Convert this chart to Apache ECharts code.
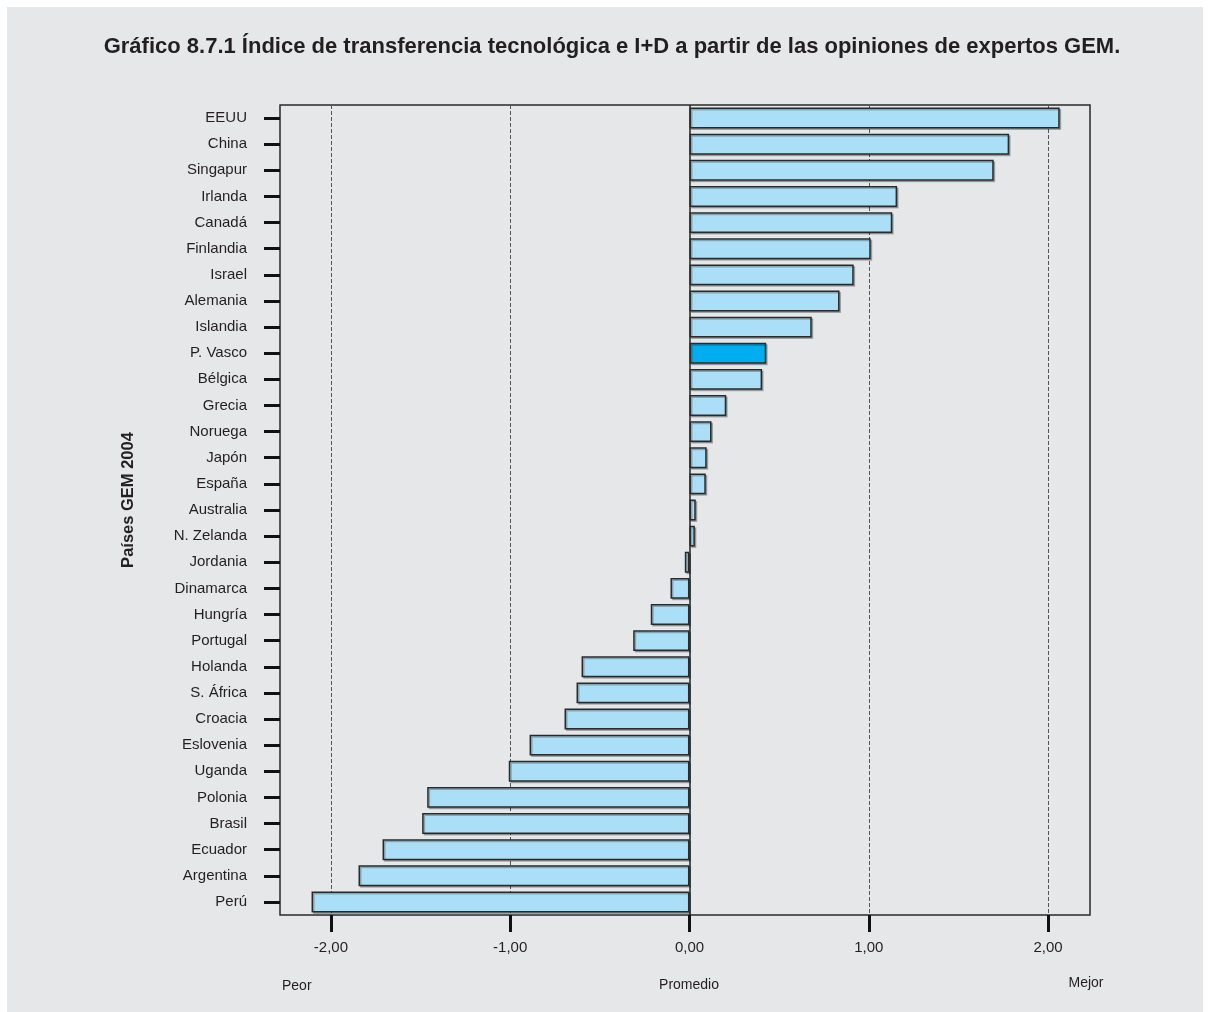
<!DOCTYPE html>
<html>
<head>
<meta charset="utf-8">
<script src="https://cdn.jsdelivr.net/npm/echarts@6/dist/echarts.min.js"></script>
<style>
html,body{margin:0;padding:0;background:#ffffff;}
#chart{position:absolute;left:7px;top:7px;width:1196px;height:1005px;background:#e6e7e8;}
</style>
</head>
<body>
<div id="chart"></div>
<script>
// Data
const countries = ["EEUU","China","Singapur","Irlanda","Canadá","Finlandia","Israel","Alemania","Islandia","P. Vasco","Bélgica","Grecia","Noruega","Japón","España","Australia","N. Zelanda","Jordania","Dinamarca","Hungría","Portugal","Holanda","S. África","Croacia","Eslovenia","Uganda","Polonia","Brasil","Ecuador","Argentina","Perú"];
const values = [2.065,1.783,1.697,1.158,1.131,1.011,0.916,0.837,0.682,0.428,0.405,0.205,0.123,0.096,0.091,0.035,0.030,-0.026,-0.106,-0.216,-0.314,-0.602,-0.630,-0.697,-0.892,-1.008,-1.463,-1.491,-1.712,-1.846,-2.108];
const highlighted = "P. Vasco";
const xTicks = [-2,-1,0,1,2];
const gridValues = [-2,-1,1,2];
const titleText = "Gráfico 8.7.1 Índice de transferencia tecnológica e I+D a partir de las opiniones de expertos GEM.";
const yAxisTitle = "Países GEM 2004";
const scaleNotes = ["Peor","Promedio","Mejor"];

const FONT = '"Liberation Sans", Arial, sans-serif';
const chart = echarts.init(document.getElementById('chart'));

const barData = countries.map((c,i)=>{
  const d = {value: values[i]};
  if (c === highlighted) d.itemStyle = {color:'#00aeef'};
  return d;
});

chart.setOption({
  backgroundColor:'#e6e7e8',
  animation:false,
  textStyle:{fontFamily:FONT},
  grid:{left:273, top:98, width:810, height:810, show:true, borderColor:'#2a2a2a', borderWidth:1.5, backgroundColor:'transparent', containLabel:false},
  xAxis:{
    type:'value', min:-2.284, max:2.234,
    axisLine:{show:false, onZero:false},
    splitLine:{show:false},
    axisTick:{show:true, customValues:xTicks, length:17, lineStyle:{color:'#111', width:3}},
    axisLabel:{customValues:xTicks, margin:25, fontSize:15, color:'#231f20', fontFamily:FONT,
      formatter:v=>v.toFixed(2).replace('.',',')}
  },
  yAxis:{
    type:'category', data:countries, inverse:true,
    axisLine:{show:false, onZero:false},
    axisTick:{show:true, alignWithLabel:true, length:16, lineStyle:{color:'#111', width:3}},
    axisLabel:{margin:33, fontSize:15, color:'#231f20', fontFamily:FONT, padding:[2,0,0,0]}
  },
  series:[{
    type:'bar', data:barData, barWidth:'80%', z:5,
    itemStyle:{color:'#abdff7', borderColor:'#2a2a2a', borderWidth:1.5,
      shadowColor:'rgba(0,0,0,0.25)', shadowOffsetX:1.5, shadowOffsetY:1.5, shadowBlur:0},
    markLine:{
      z:1, silent:true, symbol:'none', label:{show:false},
      data:[
        ...gridValues.map(v=>({xAxis:v, lineStyle:{type:[4,2], color:'#555', width:1}})),
        {xAxis:0, lineStyle:{type:'solid', color:'#222', width:1.5}}
      ]
    }
  }],
  graphic:[
    {type:'text', x:605, y:40, style:{text:titleText, font:'bold 22px '+FONT, fill:'#231f20', align:'center', verticalAlign:'middle'}},
    {type:'text', x:121, y:493, rotation:Math.PI/2, style:{text:yAxisTitle, font:'bold 16.5px '+FONT, fill:'#231f20', align:'center', verticalAlign:'middle'}},
    {type:'text', x:275, y:979, style:{text:scaleNotes[0], font:'14px '+FONT, fill:'#231f20', align:'left', verticalAlign:'middle'}},
    {type:'text', x:682, y:978, style:{text:scaleNotes[1], font:'14px '+FONT, fill:'#231f20', align:'center', verticalAlign:'middle'}},
    {type:'text', x:1079, y:976, style:{text:scaleNotes[2], font:'14px '+FONT, fill:'#231f20', align:'center', verticalAlign:'middle'}}
  ]
});
</script>
</body>
</html>
